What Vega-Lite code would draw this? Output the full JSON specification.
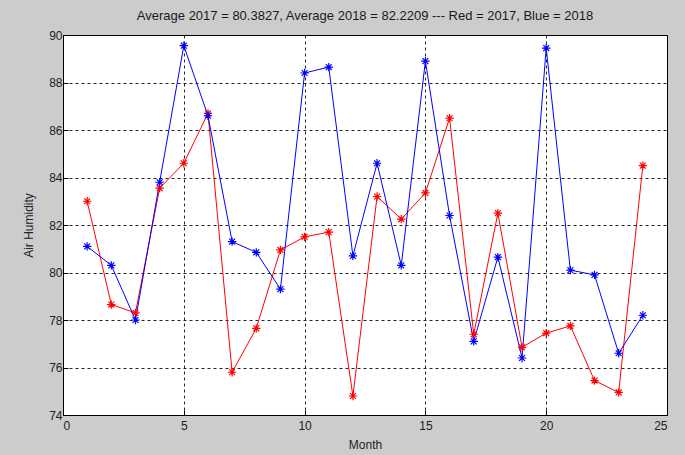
{
  "$schema": "https://vega.github.io/schema/vega-lite/v6.json",
  "autosize": {"type": "none"},
  "width": 604,
  "height": 380,
  "padding": {"left": 63, "top": 35, "right": 18, "bottom": 40},
  "background": "#cccccc",
  "title": {
    "text": "Average 2017 = 80.3827, Average 2018 = 82.2209 --- Red = 2017, Blue = 2018",
    "font": "Liberation Sans",
    "fontSize": 13,
    "fontWeight": "normal",
    "color": "#1a1a1a",
    "anchor": "middle",
    "offset": 6
  },
  "config": {
    "view": {"stroke": "#000000", "strokeWidth": 1, "fill": "#ffffff"},
    "axis": {
      "labelFont": "Liberation Sans",
      "labelFontSize": 12,
      "labelColor": "#222222",
      "titleFont": "Liberation Sans",
      "titleFontSize": 12,
      "titleFontWeight": "normal",
      "titleColor": "#222222",
      "domainColor": "#000000",
      "gridColor": "#000000",
      "gridDash": [3, 3],
      "gridOpacity": 0.85,
      "gridWidth": 1,
      "tickColor": "#000000",
      "tickSize": -5,
      "labelPadding": 10
    }
  },
  "data": {
    "values": [
      {"month": 1, "year": "2017", "humidity": 83.0},
      {"month": 2, "year": "2017", "humidity": 78.65},
      {"month": 3, "year": "2017", "humidity": 78.3},
      {"month": 4, "year": "2017", "humidity": 83.55},
      {"month": 5, "year": "2017", "humidity": 84.6},
      {"month": 6, "year": "2017", "humidity": 86.7},
      {"month": 7, "year": "2017", "humidity": 75.8},
      {"month": 8, "year": "2017", "humidity": 77.65},
      {"month": 9, "year": "2017", "humidity": 80.95},
      {"month": 10, "year": "2017", "humidity": 81.5},
      {"month": 11, "year": "2017", "humidity": 81.7},
      {"month": 12, "year": "2017", "humidity": 74.8},
      {"month": 13, "year": "2017", "humidity": 83.2},
      {"month": 14, "year": "2017", "humidity": 82.25},
      {"month": 15, "year": "2017", "humidity": 83.35},
      {"month": 16, "year": "2017", "humidity": 86.5},
      {"month": 17, "year": "2017", "humidity": 77.4},
      {"month": 18, "year": "2017", "humidity": 82.5},
      {"month": 19, "year": "2017", "humidity": 76.85},
      {"month": 20, "year": "2017", "humidity": 77.45},
      {"month": 21, "year": "2017", "humidity": 77.75},
      {"month": 22, "year": "2017", "humidity": 75.45},
      {"month": 23, "year": "2017", "humidity": 74.95},
      {"month": 24, "year": "2017", "humidity": 84.5},
      {"month": 1, "year": "2018", "humidity": 81.1},
      {"month": 2, "year": "2018", "humidity": 80.3},
      {"month": 3, "year": "2018", "humidity": 78.0},
      {"month": 4, "year": "2018", "humidity": 83.8},
      {"month": 5, "year": "2018", "humidity": 89.55},
      {"month": 6, "year": "2018", "humidity": 86.6},
      {"month": 7, "year": "2018", "humidity": 81.3},
      {"month": 8, "year": "2018", "humidity": 80.85},
      {"month": 9, "year": "2018", "humidity": 79.3},
      {"month": 10, "year": "2018", "humidity": 88.4},
      {"month": 11, "year": "2018", "humidity": 88.65},
      {"month": 12, "year": "2018", "humidity": 80.7},
      {"month": 13, "year": "2018", "humidity": 84.6},
      {"month": 14, "year": "2018", "humidity": 80.3},
      {"month": 15, "year": "2018", "humidity": 88.9},
      {"month": 16, "year": "2018", "humidity": 82.4},
      {"month": 17, "year": "2018", "humidity": 77.1},
      {"month": 18, "year": "2018", "humidity": 80.65},
      {"month": 19, "year": "2018", "humidity": 76.4},
      {"month": 20, "year": "2018", "humidity": 89.45},
      {"month": 21, "year": "2018", "humidity": 80.1},
      {"month": 22, "year": "2018", "humidity": 79.9},
      {"month": 23, "year": "2018", "humidity": 76.6},
      {"month": 24, "year": "2018", "humidity": 78.2}
    ]
  },
  "encoding": {
    "x": {
      "field": "month",
      "type": "quantitative",
      "title": "Month",
      "scale": {"domain": [0, 25], "nice": false},
      "axis": {"values": [0, 5, 10, 15, 20, 25], "titlePadding": 8}
    },
    "y": {
      "field": "humidity",
      "type": "quantitative",
      "title": "Air Humidity",
      "scale": {"domain": [74, 90], "nice": false, "zero": false},
      "axis": {"values": [74, 76, 78, 80, 82, 84, 86, 88, 90], "labelPadding": 6, "titlePadding": 13}
    },
    "color": {
      "field": "year",
      "type": "nominal",
      "scale": {"domain": ["2017", "2018"], "range": ["#ff0000", "#0000ff"]},
      "legend": null
    },
    "order": {"field": "month", "type": "quantitative"}
  },
  "layer": [
    {"mark": {"type": "line", "strokeWidth": 1}},
    {
      "mark": {
        "type": "point",
        "shape": "M-1,0L1,0M0,-1L0,1M-0.7,-0.7L0.7,0.7M-0.7,0.7L0.7,-0.7",
        "filled": false,
        "size": 70,
        "strokeWidth": 1.2,
        "opacity": 1
      }
    }
  ]
}
